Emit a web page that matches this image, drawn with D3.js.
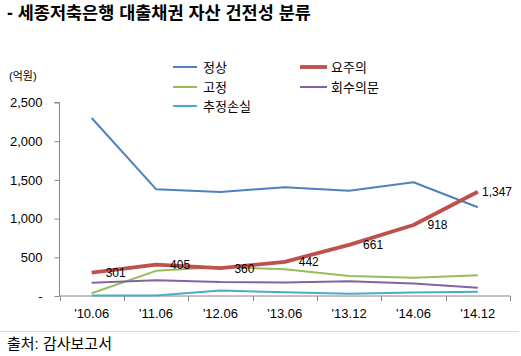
<!DOCTYPE html>
<html><head><meta charset="utf-8">
<script src="https://cdn.jsdelivr.net/npm/d3@7"></script>
<style>
body{margin:0;background:#fff;}
text{font-family:"Liberation Sans","Noto Sans CJK KR",sans-serif;fill:#000;}
</style></head><body>
<svg id="c" width="521" height="356"></svg>
<script>
const categories = ["'10.06","'11.06","'12.06","'13.06","'13.12","'14.06","'14.12"];
const normal    = [2300, 1380, 1345, 1405, 1360, 1470, 1146];   // 정상
const caution   = [301, 405, 360, 442, 661, 918, 1347];         // 요주의
const substd    = [35, 325, 375, 345, 258, 236, 268];           // 고정
const doubtful  = [172, 205, 180, 175, 192, 160, 107];          // 회수의문
const estLoss   = [8, 8, 70, 50, 30, 45, 55];                   // 추정손실
const yTicks    = [0, 500, 1000, 1500, 2000, 2500];
const yTickLabels = ["-", "500", "1,000", "1,500", "2,000", "2,500"];

const series = [
  {name:"정상", values: normal, color:"#4F81BD", w:2},
  {name:"고정", values: substd, color:"#9BBB59", w:2},
  {name:"추정손실", values: estLoss, color:"#4BACC6", w:2},
  {name:"회수의문", values: doubtful, color:"#8064A2", w:2},
  {name:"요주의", values: caution, color:"#C0504D", w:3.8, labels:true}
];

const svg = d3.select("#c");
const x = d3.scaleBand().domain(categories).range([59.5, 510]);
const y = d3.scaleLinear().domain([0, 2500]).range([296, 102.5]);

// title
svg.append("text").attr("x", 7).attr("y", 19).attr("font-size", 17.5).attr("font-weight", "bold")
  .text("- 세종저축은행 대출채권 자산 건전성 분류");
svg.append("text").attr("x", 9).attr("y", 80).attr("font-size", 11).text("(억원)");

// y axis
const yAxis = d3.axisLeft(y).tickValues(yTicks).tickSize(5).tickPadding(12)
  .tickFormat((d,i) => yTickLabels[i]);
const gy = svg.append("g").attr("transform", "translate(59.5,0)").call(yAxis);
gy.select(".domain").attr("stroke", "#868686").attr("d", "M-5,102.5H0V296");
gy.selectAll(".tick line").attr("stroke", "#868686");
gy.selectAll(".tick text").attr("font-size", 13).attr("font-family", "Liberation Sans, sans-serif").attr("fill", "#000");

// x axis
const gx = svg.append("g").attr("transform", "translate(0,296)");
gx.append("line").attr("x1", 59.5).attr("x2", 510).attr("stroke", "#868686");
const bounds = categories.map(c => x(c)).concat([x.range()[1]]);
gx.selectAll(".xt").data(bounds).enter().append("line")
  .attr("x1", d => Math.round(d) + 0.5).attr("x2", d => Math.round(d) + 0.5)
  .attr("y1", 0).attr("y2", 5).attr("stroke", "#868686");
gx.selectAll(".xl").data(categories).enter().append("text")
  .attr("x", d => x(d) + x.bandwidth()/2).attr("y", 22).attr("text-anchor", "middle")
  .attr("font-size", 13).text(d => d);

// lines
const line = d3.line().x((d,i) => x(categories[i]) + x.bandwidth()/2).y(d => y(d));
series.forEach(s => {
  svg.append("path").datum(s.values).attr("d", line).attr("fill", "none")
    .attr("stroke", s.color).attr("stroke-width", s.w).attr("stroke-linejoin", "round");
});

// labels for 요주의
const fmt = d3.format(",");
const lab = svg.append("g");
caution.forEach((v,i) => {
  const px = x(categories[i]) + x.bandwidth()/2, py = y(v);
  const t = lab.append("text").attr("font-size", 12).attr("y", py + 4.5).text(fmt(v));
  const w = t.node().getComputedTextLength();
  t.attr("x", Math.min(px + 14, 512 - w));
});

// legend
const legend = [
  {name:"정상", color:"#4F81BD", x1:173, x2:197, tx:203, y:67, w:2},
  {name:"요주의", color:"#C0504D", x1:300, x2:327, tx:331, y:67, w:3.8},
  {name:"고정", color:"#9BBB59", x1:173, x2:197, tx:203, y:87, w:2},
  {name:"회수의문", color:"#8064A2", x1:300, x2:327, tx:331, y:87, w:2},
  {name:"추정손실", color:"#4BACC6", x1:173, x2:197, tx:203, y:106, w:2}
];
const lg = svg.append("g");
legend.forEach(l => {
  lg.append("line").attr("x1", l.x1).attr("x2", l.x2).attr("y1", l.y).attr("y2", l.y)
    .attr("stroke", l.color).attr("stroke-width", l.w);
  lg.append("text").attr("x", l.tx).attr("y", l.y + 4.5).attr("font-size", 13).text(l.name);
});

// footer
svg.append("line").attr("x1", 0).attr("x2", 519).attr("y1", 331.5).attr("y2", 331.5).attr("stroke", "#d9d9d9");
svg.append("text").attr("x", 7).attr("y", 348.5).attr("font-size", 15).text("출처: 감사보고서");
</script>
</body></html>
